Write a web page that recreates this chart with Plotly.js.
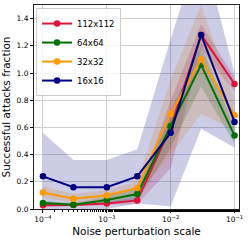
<!DOCTYPE html>
<html>
<head>
<meta charset="utf-8">
<script src="https://cdn.plot.ly/plotly-3.0.1.min.js"></script>
<style>html,body{margin:0;padding:0;background:#fff;}#chart{width:249px;height:241px;}</style>
</head>
<body>
<div id="chart"></div>
<script>
const noiseScales = [1e-4, 3e-4, 1e-3, 3e-3, 1e-2, 3e-2, 1e-1];
const seriesNames = ["112x112", "64x64", "32x32", "16x16"];

const mean112 = [0.027, 0.03, 0.04, 0.063, 0.60, 1.28, 0.92];
const upper112 = [0.04, 0.04, 0.055, 0.09, 0.80, 1.36, 0.97];
const lower112 = [0.015, 0.02, 0.025, 0.035, 0.30, 1.18, 0.86];

const mean64 = [0.044, 0.032, 0.066, 0.11, 0.61, 1.06, 0.54];
const upper64 = [0.06, 0.045, 0.09, 0.15, 0.72, 1.20, 0.60];
const lower64 = [0.03, 0.02, 0.04, 0.06, 0.45, 0.90, 0.48];

const mean32 = [0.122, 0.076, 0.10, 0.155, 0.70, 1.10, 0.69];
const upper32 = [0.17, 0.11, 0.14, 0.20, 0.95, 1.50, 0.80];
const lower32 = [0.08, 0.05, 0.06, 0.10, 0.40, 0.70, 0.58];

const mean16 = [0.24, 0.16, 0.16, 0.24, 0.56, 1.28, 0.64];
const upper16 = [0.56, 0.36, 0.36, 0.44, 1.25, 1.95, 1.00];
const lower16 = [0.0, 0.0, 0.0, 0.04, 0.02, 0.59, 0.45];

const xTickVals = [1e-4, 1e-3, 1e-2, 1e-1];
const xTickText = ["10<sup>\u22124</sup>", "10<sup>\u22123</sup>", "10<sup>\u22122</sup>", "10<sup>\u22121</sup>"];
const yTickVals = [0, 0.2, 0.4, 0.6, 0.8, 1.0, 1.2, 1.4];
const yTickText = ["0.0", "0.2", "0.4", "0.6", "0.8", "1.0", "1.2", "1.4"];

const colors = ["#dc143c", "#007000", "#ff9900", "#000080"];
const fills = ["rgba(220,20,60,0.2)", "rgba(0,112,0,0.2)", "rgba(255,153,0,0.2)", "rgba(0,0,128,0.2)"];
const means = [mean112, mean64, mean32, mean16];
const uppers = [upper112, upper64, upper32, upper16];
const lowers = [lower112, lower64, lower32, lower16];

const traces = [];
for (let i = 0; i < seriesNames.length; i++) {
  traces.push({x: noiseScales, y: lowers[i], mode: "lines", line: {width: 0, color: colors[i]}, showlegend: false, hoverinfo: "skip"});
  traces.push({x: noiseScales, y: uppers[i], mode: "lines", line: {width: 0, color: colors[i]}, fill: "tonexty", fillcolor: fills[i], showlegend: false, hoverinfo: "skip"});
}
for (let i = 0; i < seriesNames.length; i++) {
  traces.push({x: noiseScales, y: means[i], name: seriesNames[i], mode: "lines+markers",
    line: {width: 2, color: colors[i]}, marker: {size: 6.5, color: colors[i]}});
}

const layout = {
  width: 249, height: 241,
  margin: {l: 34, r: 10, t: 5, b: 32},
  paper_bgcolor: "#fff", plot_bgcolor: "#fff",
  font: {family: "DejaVu Sans", color: "#000"},
  showlegend: true,
  legend: {x: 0.01, y: 0.985, xanchor: "left", yanchor: "top", bgcolor: "rgba(255,255,255,0.8)",
    traceorder: "normal",
    bordercolor: "#cccccc", borderwidth: 1, font: {size: 8.5, family: "DejaVu Sans"}, tracegroupgap: 0, itemwidth: 30},
  xaxis: {
    type: "log", range: [Math.log10(1e-4) - 0.14, Math.log10(1e-1) + 0.07],
    tickvals: xTickVals, ticktext: xTickText, tickfont: {size: 7.5},
    ticks: "outside", ticklen: 3, tickcolor: "#000",
    showgrid: true, gridcolor: "#d0d0d0", gridwidth: 1,
    showline: true, linecolor: "#222", linewidth: 1, mirror: true, zeroline: false,
    minor: {ticks: "outside", ticklen: 2, tickcolor: "#000", showgrid: false},
    title: {text: "Noise perturbation scale", font: {size: 10.5}, standoff: 4}
  },
  yaxis: {
    range: [0, 1.5], tickvals: yTickVals, ticktext: yTickText, tickfont: {size: 7.5},
    ticks: "outside", ticklen: 3, tickcolor: "#000",
    showgrid: true, gridcolor: "#d0d0d0", gridwidth: 1,
    showline: true, linecolor: "#222", linewidth: 1, mirror: true, zeroline: false,
    title: {text: "Successful attacks fraction", font: {size: 10.5}, standoff: 4}
  }
};

Plotly.newPlot("chart", traces, layout, {displayModeBar: false, staticPlot: true});
</script>
</body>
</html>
